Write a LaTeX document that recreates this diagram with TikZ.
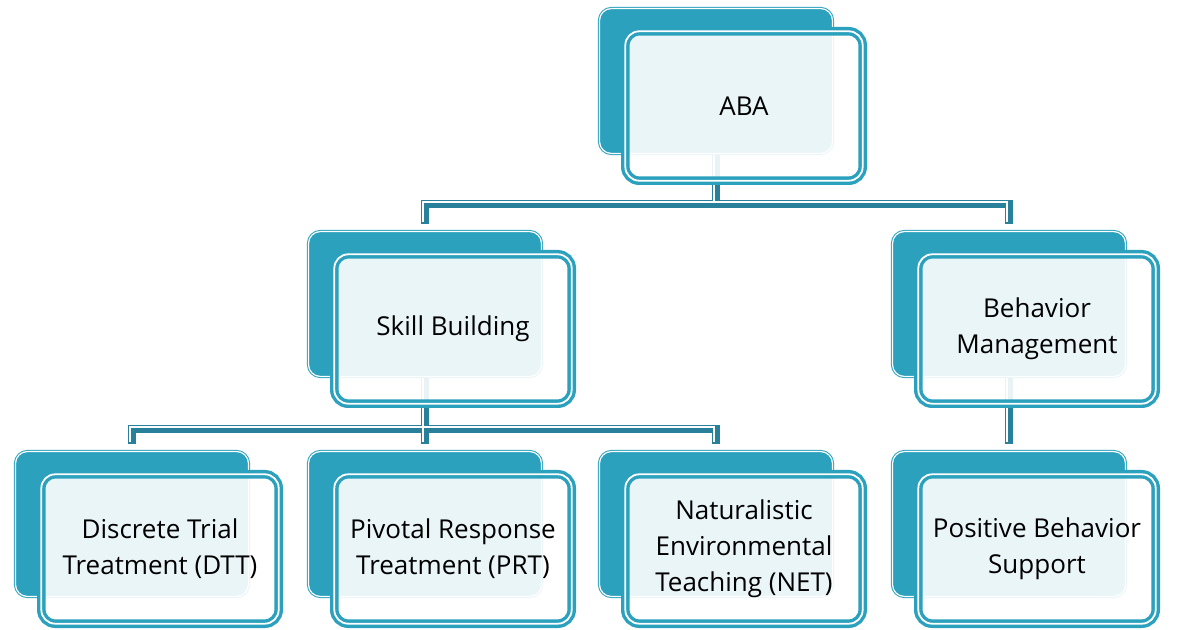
\documentclass[tikz,border=0pt]{standalone}
\usepackage{fontspec}
\setmainfont{Open Sans}
\usetikzlibrary{positioning,backgrounds}
\definecolor{abateal}{RGB}{43,161,190}
\definecolor{busteal}{RGB}{40,128,154}

\begin{document}
\begin{tikzpicture}[
        x=0.5pt, y=-0.5pt,
        backbox/.style={rectangle, rounded corners=6pt, fill=abateal, draw=abateal, double=white, line width=0.5pt, double distance=0.6pt, minimum width=116.5pt, minimum height=72.5pt},
        frontbox/.style={rectangle, rounded corners=7pt, fill=white, fill opacity=0.9, text opacity=1, draw=abateal, double=white, line width=1.7pt, double distance=0.9pt, minimum width=118.7pt, minimum height=74.7pt, align=center, font=\fontsize{13}{18}\selectfont},
        bus/.style={draw=busteal, line width=4pt, shorten >=3.5pt},
        shine/.style={draw=white, line width=1pt, shorten >=3.5pt, transform canvas={shift={(-0.85pt,0.85pt)}}}
    ]
        \useasboundingbox (0,0) rectangle (1200,630);

        % Top
        \node[backbox] (ababack) at (716,81) {};
        \node[frontbox] (aba) at ([shift={(28,25)}]ababack.center) {ABA};

        % Second row
        \node[backbox] (skillback) at (425,304) {};
        \node[frontbox] (skill) at ([shift={(28,25)}]skillback.center) {Skill Building};
        \node[backbox] (behback) at (1009,304) {};
        \node[frontbox] (beh) at ([shift={(28,25)}]behback.center) {Behavior\\Management};

        % Third row
        \node[backbox] (dttback) at (132,524) {};
        \node[frontbox] (dtt) at ([shift={(28,25)}]dttback.center) {Discrete Trial\\Treatment (DTT)};
        \node[backbox] (prtback) at (425,524) {};
        \node[frontbox] (prt) at ([shift={(28,25)}]prtback.center) {Pivotal Response\\Treatment (PRT)};
        \node[backbox] (netback) at (716,524) {};
        \node[frontbox] (net) at ([shift={(28,25)}]netback.center) {Naturalistic\\Environmental\\Teaching (NET)};
        \node[backbox] (pbsback) at (1009,524) {};
        \node[frontbox] (pbs) at ([shift={(28,25)}]pbsback.center) {Positive Behavior\\Support};

        % Connectors
        \begin{scope}[on background layer]
            \draw[bus] (ababack.south) -- ++(0,50) -| (skillback.north);
            \draw[bus] (ababack.south) -- ++(0,50) -| (behback.north);
            \draw[bus] (skillback.south) -- ++(0,52) -| (dttback.north);
            \draw[bus] (skillback.south) -- ++(0,52) -| (prtback.north);
            \draw[bus] (skillback.south) -- ++(0,52) -| (netback.north);
            \draw[bus] (behback.south) -- (pbsback.north);
            \draw[shine] (ababack.south) -- ++(0,50) -| (skillback.north);
            \draw[shine] (ababack.south) -- ++(0,50) -| (behback.north);
            \draw[shine] (skillback.south) -- ++(0,52) -| (dttback.north);
            \draw[shine] (skillback.south) -- ++(0,52) -| (prtback.north);
            \draw[shine] (skillback.south) -- ++(0,52) -| (netback.north);
            \draw[shine] (behback.south) -- (pbsback.north);
        \end{scope}

    \end{tikzpicture}
\end{document}
